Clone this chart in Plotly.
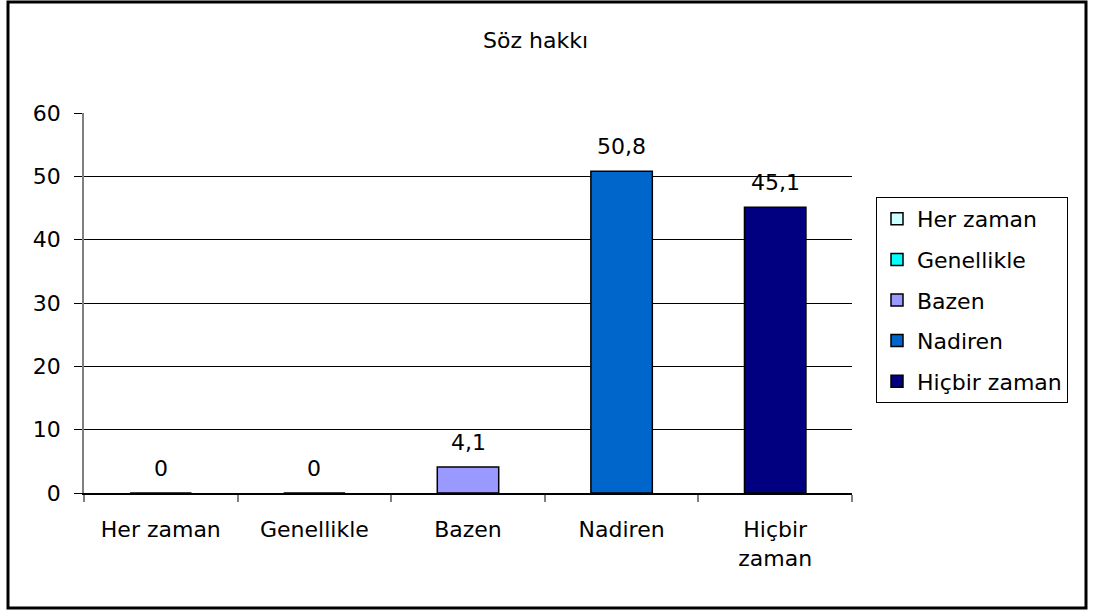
import plotly.graph_objects as go

categories = ["Her zaman", "Genellikle", "Bazen", "Nadiren", "Hiçbir zaman"]
tick_labels = ["Her zaman", "Genellikle", "Bazen", "Nadiren", "Hiçbir<br>zaman"]
values = [0, 0, 4.1, 50.8, 45.1]
value_labels = ["0", "0", "4,1", "50,8", "45,1"]
colors = ["#CCFFFF", "#00FFFF", "#9999FF", "#0066CC", "#000080"]

FONT = "DejaVu Sans, Verdana, sans-serif"
FS = 22

fig = go.Figure()
for i, (c, v, col) in enumerate(zip(categories, values, colors)):
    fig.add_trace(go.Bar(
        x=[c], y=[v], name=c, width=0.4,
        marker=dict(color=col, line=dict(color="black", width=1.5)),
        legendgroup=f"g{i}", showlegend=True,
    ))
    fig.add_annotation(x=c, y=v, text=value_labels[i], showarrow=False,
                       yanchor="bottom", yshift=10,
                       font=dict(size=FS, color="black", family=FONT))

W, H = 1093, 612
L, R, T, B = 84, 241, 113, 119
pw, ph = W - L - R, H - T - B

def px_x(p):
    return (p - L) / pw

def px_y(p):
    return (H - B - p) / ph

fig.add_shape(type="rect", xref="paper", yref="paper",
              x0=px_x(8), x1=px_x(1086), y0=px_y(608), y1=px_y(2),
              line=dict(color="black", width=3), layer="below")

fig.update_layout(
    width=W, height=H,
    margin=dict(l=L, r=R, t=T, b=B),
    paper_bgcolor="white", plot_bgcolor="white",
    barmode="overlay",
    separators=", ",
    font=dict(family=FONT, size=FS, color="black"),
    title=dict(text="Söz hakkı", x=0.49, xanchor="center", y=1 - 40 / H, yanchor="middle",
               font=dict(size=FS, family=FONT, color="black")),
    legend=dict(x=px_x(876), xanchor="left", y=px_y(197), yanchor="top",
                bordercolor="black", borderwidth=1, bgcolor="white",
                font=dict(size=FS, family=FONT, color="black"),
                traceorder="grouped", tracegroupgap=9,
                itemwidth=30),
    showlegend=True,
)
fig.update_xaxes(
    categoryorder="array", categoryarray=categories,
    tickvals=categories, ticktext=tick_labels,
    showline=True, linecolor="black", linewidth=1.5,
    ticks="outside", tickson="boundaries", ticklen=7, tickcolor="#808080", tickwidth=1.5,
    showgrid=False, zeroline=False, range=[-0.5, 4.5],
    ticklabelstandoff=16,
    tickfont=dict(size=FS, family=FONT, color="black"),
)
fig.update_yaxes(
    range=[0, 60], dtick=10, tick0=0,
    showgrid=True, gridcolor="black", gridwidth=1,
    showline=True, linecolor="#808080", linewidth=1.5,
    ticks="outside", ticklen=8, tickcolor="black", tickwidth=1,
    zeroline=False, ticklabelstandoff=9,
    tickfont=dict(size=FS, family=FONT, color="black"),
)

fig.write_html("out.html", config={"displayModeBar": False},
               post_script="document.body.style.margin='0';document.body.style.padding='0';")
